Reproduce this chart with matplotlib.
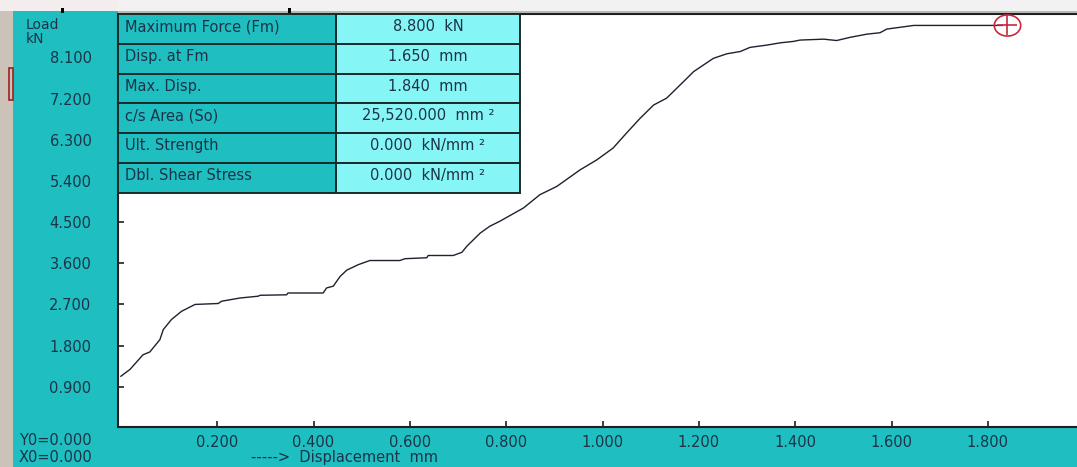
import numpy as np
import matplotlib
matplotlib.use("Agg")
import matplotlib.pyplot as plt
from matplotlib.patches import Rectangle
from matplotlib.path import Path

# ---- data ----
disp = [0.000, 0.019, 0.046, 0.060, 0.081, 0.088, 0.105, 0.126, 0.154, 0.202,
        0.209, 0.247, 0.285, 0.289, 0.344, 0.347, 0.420, 0.427, 0.441, 0.455,
        0.469, 0.493, 0.517, 0.579, 0.590, 0.635, 0.638, 0.690, 0.708, 0.718,
        0.746, 0.766, 0.787, 0.836, 0.870, 0.905, 0.953, 0.988, 1.022, 1.050,
        1.078, 1.106, 1.133, 1.168, 1.189, 1.230, 1.258, 1.286, 1.306, 1.341,
        1.369, 1.396, 1.410, 1.459, 1.486, 1.514, 1.549, 1.576, 1.590, 1.618,
        1.646, 1.653, 1.830]
load = [1.13, 1.28, 1.60, 1.66, 1.93, 2.15, 2.37, 2.55, 2.70, 2.72,
        2.77, 2.84, 2.88, 2.90, 2.91, 2.95, 2.95, 3.06, 3.10, 3.31,
        3.45, 3.57, 3.66, 3.66, 3.70, 3.72, 3.77, 3.77, 3.84, 3.97,
        4.26, 4.41, 4.52, 4.81, 5.10, 5.28, 5.64, 5.86, 6.12, 6.45,
        6.77, 7.06, 7.21, 7.57, 7.79, 8.08, 8.18, 8.23, 8.32, 8.37,
        8.42, 8.45, 8.48, 8.50, 8.47, 8.54, 8.61, 8.64, 8.72, 8.76,
        8.80, 8.80, 8.80]
max_point = (1.840, 8.80)
xticks = [0.2, 0.4, 0.6, 0.8, 1.0, 1.2, 1.4, 1.6, 1.8]
yticks = [0.9, 1.8, 2.7, 3.6, 4.5, 5.4, 6.3, 7.2, 8.1]
table_labels = ["Maximum Force (Fm)", "Disp. at Fm", "Max. Disp.",
                "c/s Area (So)", "Ult. Strength", "Dbl. Shear Stress"]
table_values = ["8.800  kN", "1.650  mm", "1.840  mm",
                "25,520.000  mm \u00b2", "0.000  kN/mm \u00b2", "0.000  kN/mm \u00b2"]

TEAL = "#1fbfc1"
CYAN = "#86f5f5"
TXT = "#1c3348"
W, H = 1077, 467

plt.rcParams['font.family'] = ['DejaVu Sans']
fig = plt.figure(figsize=(W / 100, H / 100), dpi=100)
fig.patch.set_facecolor(TEAL)

def fx(px):
    return px / W

def fy(py):
    return 1 - py / H

# window frame strips
fig.add_artist(Rectangle((0, fy(H)), fx(13), 1, transform=fig.transFigure,
                         facecolor="#cbc3b8", edgecolor="none", zorder=0.5))
fig.add_artist(Rectangle((0, fy(11)), fx(118), 11 / H, transform=fig.transFigure,
                         facecolor="#f3eded", edgecolor="none", zorder=0.5))
fig.add_artist(Rectangle((fx(118), fy(13)), 1, 13 / H, transform=fig.transFigure,
                         facecolor="#f2f2f2", edgecolor="none", zorder=0.5))
fig.add_artist(Rectangle((fx(118), fy(13)), 1, 2 / H, transform=fig.transFigure,
                         facecolor="#b8b8b8", edgecolor="none", zorder=0.55))
fig.add_artist(Rectangle((fx(9), fy(100)), fx(4), 32 / H, transform=fig.transFigure,
                         facecolor="none", edgecolor="#a02020", lw=1.2, zorder=0.6))
for mx in (61, 288):
    fig.add_artist(Rectangle((fx(mx), fy(13)), fx(3), 5 / H, transform=fig.transFigure,
                             facecolor="black", edgecolor="none", zorder=0.6))

# axes
ax = fig.add_axes([fx(118), fy(427), fx(W - 118), (427 - 14) / H])
ax.set_facecolor("white")
ax.plot(disp, load, color="#202030", lw=1.0)
# max marker (ellipse with cross)
t = np.linspace(0, 2 * np.pi, 60)
ell = Path(np.c_[1.25 * np.cos(t), np.sin(t)])
ax.plot([max_point[0]], [max_point[1]], marker=ell, ms=19, mfc="none",
        mec="#c8283c", mew=1.2, zorder=5)
ax.plot([max_point[0]], [max_point[1]], marker="+", ms=15, mec="#c8283c",
        mew=1.2, zorder=5)

ax.set_xlim(-0.006, 1.985)
ax.set_ylim(0.02, 9.05)
ax.set_xticks(xticks)
ax.set_xticklabels([f"{v:.3f}" for v in xticks])
ax.set_yticks(yticks)
ax.set_yticklabels([f"{v:.3f}" for v in yticks])
ax.tick_params(axis="x", direction="in", length=4, width=1.2, color="#202020",
               pad=6, labelsize=10.5, labelcolor=TXT)
ax.tick_params(axis="y", direction="in", length=4, width=1.2, color="#202020",
               pad=19, labelsize=10.5, labelcolor=TXT)
for s in ("left", "bottom", "top"):
    ax.spines[s].set_color("#202020")
    ax.spines[s].set_linewidth(1.5)
ax.spines["right"].set_visible(False)

# axis texts
fig.text(fx(26), fy(29), "Load", fontsize=10, color=TXT, va="baseline", ha="left")
fig.text(fx(26), fy(43), "kN", fontsize=10, color=TXT, va="baseline", ha="left")
fig.text(fx(19), fy(445), "Y0=0.000", fontsize=10.5, color=TXT, va="baseline", ha="left")
fig.text(fx(19), fy(462), "X0=0.000", fontsize=10.5, color=TXT, va="baseline", ha="left")
fig.text(fx(251), fy(462), "----->  Displacement  mm", fontsize=10.5, color=TXT,
         va="baseline", ha="left")

# result table
tx0, tx1, tx2 = 118, 336, 520
ty0, rowh = 14, 29.8
for i, (lab, val) in enumerate(zip(table_labels, table_values)):
    top = ty0 + i * rowh
    fig.add_artist(Rectangle((fx(tx0), fy(top + rowh)), fx(tx1 - tx0), rowh / H,
                             transform=fig.transFigure, facecolor=TEAL,
                             edgecolor="#1a2a2a", lw=1.4, zorder=2))
    fig.add_artist(Rectangle((fx(tx1), fy(top + rowh)), fx(tx2 - tx1), rowh / H,
                             transform=fig.transFigure, facecolor=CYAN,
                             edgecolor="#1a2a2a", lw=1.4, zorder=2))
    fig.text(fx(125), fy(top + 17), lab, fontsize=10.5, color=TXT,
             va="baseline", ha="left", zorder=3)
    fig.text(fx(428), fy(top + 17), val, fontsize=10.5, color=TXT,
             va="baseline", ha="center", zorder=3)

fig.savefig("out.png", dpi=100, facecolor=fig.get_facecolor())
